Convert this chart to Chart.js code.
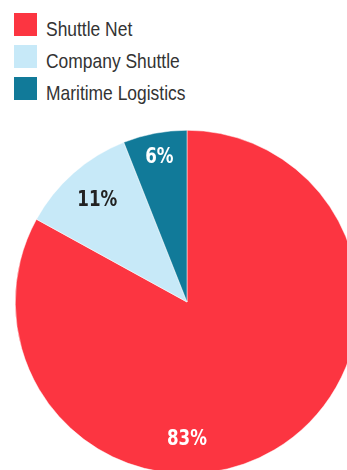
<!DOCTYPE html>
<html>
<head>
<meta charset="utf-8">
<script src="https://cdn.jsdelivr.net/npm/chart.js@4/dist/chart.umd.min.js"></script>
<style>
  html, body { margin: 0; padding: 0; background: #fff; overflow: hidden; width: 347px; height: 470px; }
  #legend { position: absolute; left: 14px; top: 13px; font-family: "Liberation Sans", sans-serif; font-size: 21px; color: #333; }
  .item { position: relative; height: 32px; }
  .box { position: absolute; left: 0; top: 0; width: 23px; height: 23px; }
  /* condensed look: squeeze the regular face horizontally */
  .txt { position: absolute; left: 32px; top: 5px; line-height: 1; white-space: nowrap; transform: scaleX(0.83); transform-origin: 0 0; }
  #wrap { position: absolute; left: 15px; top: 130px; width: 344px; height: 344px; }
</style>
</head>
<body>
<div id="legend"></div>
<div id="wrap"><canvas id="pieChart" width="344" height="344"></canvas></div>
<script>
// Market share by operator
const labels = ["Shuttle Net", "Company Shuttle", "Maritime Logistics"];
const shares = [83, 11, 6];
const colors = ["#fc3541", "#c7e9f8", "#117a99"];
const labelColors = ["#ffffff", "#222222", "#ffffff"];

// simple legend built from the same arrays
const legend = document.getElementById("legend");
labels.forEach((name, i) => {
    const row = document.createElement("div");
    row.className = "item";
    row.innerHTML = '<span class="box" style="background:' + colors[i] + '"></span><span class="txt">' + name + '</span>';
    legend.appendChild(row);
});

// draws the percentage inside each slice
const sliceLabels = {
    id: "sliceLabels",
    afterDatasetsDraw(chart, args, opts) {
        const ctx = chart.ctx;
        const meta = chart.getDatasetMeta(0);
        meta.data.forEach((arc, i) => {
            const p = arc.getProps(["x", "y", "startAngle", "endAngle", "outerRadius"], true);
            // the big slice gets its label straight below the centre
            let angle = (p.startAngle + p.endAngle) / 2;
            if (opts.angles[i] !== null) angle = opts.angles[i];
            const r = p.outerRadius * opts.radius[i];
            ctx.save();
            ctx.translate(p.x + Math.cos(angle) * r, p.y + Math.sin(angle) * r);
            ctx.scale(0.76, 1);
            ctx.font = "bold 22px 'DejaVu Sans', sans-serif";
            ctx.textAlign = "center";
            ctx.textBaseline = "middle";
            ctx.fillStyle = labelColors[i];
            ctx.fillText(shares[i] + "%", 0, 0);
            ctx.restore();
        });
    }
};

new Chart(document.getElementById("pieChart"), {
    type: "pie",
    data: {
        labels: labels,
        datasets: [{
            data: shares,
            backgroundColor: colors,
            borderColor: "#ffffff",
            borderWidth: 0.5
        }]
    },
    options: {
        responsive: false,
        animation: false,
        layout: { padding: 0 },
        plugins: {
            legend: { display: false },
            tooltip: { enabled: false },
            sliceLabels: {
                angles: [Math.PI / 2, null, null],
                radius: [0.8, 0.79, 0.86]
            }
        }
    },
    plugins: [sliceLabels]
});
</script>
</body>
</html>
